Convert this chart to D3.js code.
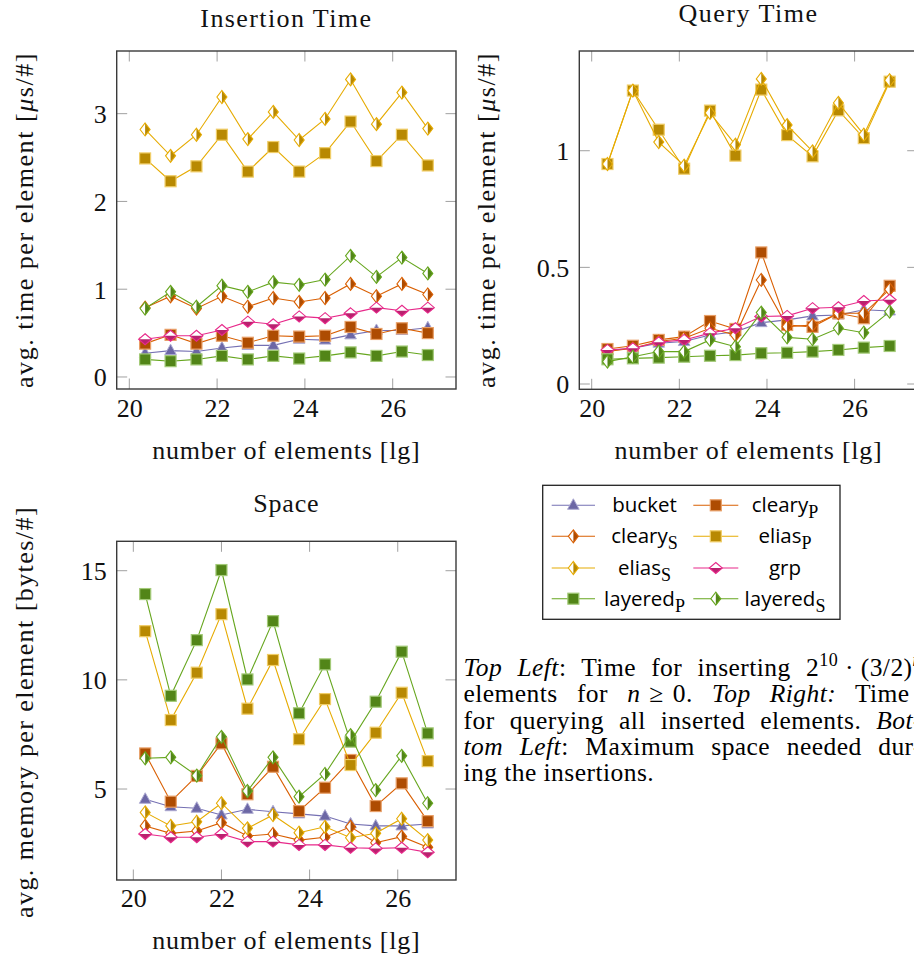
<!DOCTYPE html>
<html><head><meta charset="utf-8">
<script src="https://cdn.jsdelivr.net/npm/d3@7"></script>
<style>body{margin:0;background:#fff}</style>
</head><body><svg id="c" width="914" height="961" xmlns="http://www.w3.org/2000/svg"></svg>
<script>
// ---------- data ----------
const seriesNames = ["bucket","cleary_P","cleary_S","elias_P","elias_S","grp","layered_P","layered_S"];
const timeX  = [20.36,20.94,21.53,22.11,22.70,23.28,23.87,24.46,25.04,25.63,26.21,26.80];
const spaceX = [20.27,20.85,21.44,22.00,22.59,23.17,23.76,24.35,24.93,25.50,26.09,26.68];
const xTicks = [20,22,24,26];
const insertTicks = [0,1,2,3];
const queryTicks = [0,0.5,1];
const spaceTicks = [5,10,15];

const insBucket   = [0.27,0.30,0.29,0.33,0.36,0.36,0.43,0.42,0.48,0.53,0.53,0.56];
const insClearyP  = [0.38,0.48,0.38,0.47,0.39,0.47,0.46,0.47,0.57,0.49,0.555,0.50];
const insClearyS  = [0.79,0.92,0.78,0.92,0.80,0.90,0.855,0.90,1.06,0.92,1.06,0.94];
const insEliasP   = [2.49,2.23,2.40,2.76,2.34,2.62,2.34,2.55,2.91,2.46,2.76,2.41];
const insEliasS   = [2.82,2.52,2.76,3.19,2.71,3.02,2.70,2.94,3.39,2.88,3.24,2.83];
const insGrp      = [0.43,0.47,0.47,0.535,0.63,0.60,0.69,0.67,0.725,0.79,0.755,0.79];
const insLayeredP = [0.20,0.18,0.20,0.24,0.20,0.24,0.21,0.24,0.28,0.24,0.29,0.25];
const insLayeredS = [0.78,0.97,0.80,1.04,0.97,1.08,1.05,1.11,1.38,1.14,1.36,1.18];

const qBucket   = [0.143,0.153,0.175,0.182,0.210,0.224,0.263,0.275,0.292,0.296,0.318,0.313];
const qClearyP  = [0.150,0.164,0.189,0.203,0.270,0.236,0.564,0.253,0.245,0.303,0.282,0.421];
const qClearyS  = [0.139,0.153,0.182,0.196,0.239,0.210,0.446,0.246,0.253,0.303,0.303,0.406];
const qEliasP   = [0.943,1.258,1.090,0.923,1.172,0.979,1.262,1.067,0.976,1.173,1.054,1.296];
const qEliasS   = [0.943,1.258,1.037,0.936,1.162,1.026,1.308,1.110,0.997,1.205,1.069,1.302];
const qGrp      = [0.146,0.153,0.179,0.189,0.218,0.239,0.289,0.292,0.325,0.329,0.356,0.361];
const qLayeredP = [0.106,0.110,0.113,0.117,0.121,0.124,0.132,0.134,0.139,0.146,0.156,0.163];
const qLayeredS = [0.096,0.117,0.139,0.139,0.189,0.160,0.306,0.200,0.192,0.239,0.220,0.310];

const sBucket   = [4.53,4.19,4.12,3.81,4.07,3.96,3.86,3.76,3.40,3.31,3.31,3.40];
const sClearyP  = [6.63,4.42,5.60,7.09,4.76,6.02,3.99,5.06,6.33,4.22,5.26,3.53];
const sClearyS  = [3.31,2.97,3.08,3.46,2.85,2.94,2.66,2.79,3.27,2.54,2.82,2.33];
const sEliasP   = [12.23,8.16,10.33,13.01,8.68,10.91,7.28,9.12,6.10,7.58,9.41,6.28];
const sEliasS   = [3.93,3.31,3.50,4.35,3.20,3.81,3.00,3.27,2.77,2.97,3.64,2.66];
const sGrp      = [2.94,2.79,2.79,2.94,2.59,2.59,2.44,2.44,2.31,2.28,2.31,2.10];
const sLayeredP = [13.93,9.27,11.82,15.03,10.02,12.69,8.47,10.71,7.17,9.00,11.29,7.55];
const sLayeredS = [6.41,6.45,5.61,7.39,4.91,6.45,4.65,5.69,7.47,4.95,6.52,4.35];

// ---------- styles ----------
const SERIF = "'Liberation Serif','Times New Roman',serif";
const SANS = "'Open Sans','DejaVu Sans',sans-serif";
const FS = 26;
const baseColor = {bucket:"#7570b3", cleary:"#d95f02", elias:"#e6ab02", grp:"#e7298a", layered:"#66a61e"};
function famOf(n){ return n.split("_")[0]; }
function kindOf(n){
  if (n==="bucket") return "tri";
  if (n==="grp") return "hdiamond";
  return n.endsWith("_P") ? "square" : "vdiamond";
}
const light = c => d3.interpolateRgb(c, "#fff")(0.4);
const dark = c => d3.interpolateRgb(c, "#000")(0.2);

const svg = d3.select("#c");

function fitText(t, target){
  const w = t.node().getComputedTextLength();
  const n = t.text().length;
  if (n>1) t.attr("letter-spacing", (target - w)/n);
}

function drawMarker(g, kind, color, cx, cy){
  const m = g.append("g").attr("transform", `translate(${cx},${cy})`);
  if (kind==="square"){
    m.append("rect").attr("x",-5.5).attr("y",-5.5).attr("width",11).attr("height",11)
      .attr("fill", dark(color)).attr("stroke", light(color)).attr("stroke-width",1.2);
  } else if (kind==="tri"){
    m.append("path").attr("d","M0,-6.5L5.8,4L-5.8,4Z")
      .attr("fill", d3.interpolateRgb(color,"#000")(0.08)).attr("stroke", light(color)).attr("stroke-width",1);
  } else if (kind==="vdiamond"){
    const w=5, h=6.5;
    m.append("path").attr("d",`M0,${-h}L${w},0L0,${h}L${-w},0Z`).attr("fill","#fff");
    m.append("path").attr("d",`M0,${-h}L${w},0L0,${h}Z`).attr("fill", dark(color));
    m.append("path").attr("d",`M0,${-h}L${w},0L0,${h}L${-w},0Z`).attr("fill","none")
      .attr("stroke", color).attr("stroke-width",1.1);
  } else if (kind==="hdiamond"){
    const w=6.5, h=5.5;
    m.append("path").attr("d",`M0,${-h}L${w},0L0,${h}L${-w},0Z`).attr("fill","#fff");
    m.append("path").attr("d",`M${-w},0L${w},0L0,${h}Z`).attr("fill", dark(color));
    m.append("path").attr("d",`M0,${-h}L${w},0L0,${h}L${-w},0Z`).attr("fill","none")
      .attr("stroke", color).attr("stroke-width",1.1);
  }
}

function panel(cfg){
  const g = svg.append("g");
  const x = d3.scaleLinear().domain(cfg.xDomain).range([cfg.left, cfg.right]);
  const y = d3.scaleLinear().domain(cfg.yDomain).range([cfg.bottom, cfg.top]);
  const W = cfg.right-cfg.left, H = cfg.bottom-cfg.top;
  const TL = 10.5;
  const tg = g.append("g").attr("stroke","#a0a0a0").attr("stroke-width",1);
  xTicks.forEach(t=>{
    const px = x(t);
    tg.append("line").attr("x1",px).attr("x2",px).attr("y1",cfg.bottom).attr("y2",cfg.bottom-TL);
    tg.append("line").attr("x1",px).attr("x2",px).attr("y1",cfg.top).attr("y2",cfg.top+TL);
  });
  cfg.yTicks.forEach(t=>{
    const py = y(t);
    tg.append("line").attr("x1",cfg.left).attr("x2",cfg.left+TL).attr("y1",py).attr("y2",py);
    tg.append("line").attr("x1",cfg.right).attr("x2",cfg.right-TL).attr("y1",py).attr("y2",py);
  });
  g.append("rect").attr("x",cfg.left).attr("y",cfg.top).attr("width",W).attr("height",H)
    .attr("fill","none").attr("stroke","#3a3a3a").attr("stroke-width",1.4);
  const xa = d3.axisBottom(x).tickValues(xTicks).tickSize(0).tickPadding(0);
  const xg = g.append("g").attr("transform",`translate(0,${cfg.xTickBase})`).call(xa);
  xg.select(".domain").remove();
  xg.selectAll("text").attr("font-family",SERIF).attr("font-size",FS).attr("fill","#111")
    .attr("dy",0).attr("y",0);
  const ya = d3.axisLeft(y).tickValues(cfg.yTicks).tickSize(0).tickPadding(0).tickFormat(d=>String(d));
  const yg = g.append("g").attr("transform",`translate(${cfg.left-10},0)`).call(ya);
  yg.select(".domain").remove();
  yg.selectAll("text").attr("font-family",SERIF).attr("font-size",FS).attr("fill","#111")
    .attr("dy","0.34em").attr("x",0);
  const cx = (cfg.left+cfg.right)/2;
  const tt = g.append("text").attr("x",cx).attr("y",cfg.titleY).attr("text-anchor","middle")
    .attr("font-family",SERIF).attr("font-size",FS).attr("fill","#111").text(cfg.title);
  fitText(tt, cfg.titleW);
  const xl = g.append("text").attr("x",cx).attr("y",cfg.xLabelY).attr("text-anchor","middle")
    .attr("font-family",SERIF).attr("font-size",FS).attr("fill","#111")
    .text("number of elements [lg]");
  fitText(xl, 268);
  const yl = g.append("text").attr("transform",`translate(${cfg.yLabelX},${cfg.yLabelC}) rotate(-90)`)
    .attr("text-anchor","middle").attr("font-family",SERIF).attr("font-size",FS).attr("fill","#111");
  yl.append("tspan").text(cfg.yLabel[0]);
  if (cfg.yLabel[1]) yl.append("tspan").attr("font-style","italic").text(cfg.yLabel[1]);
  if (cfg.yLabel[2]) yl.append("tspan").text(cfg.yLabel[2]);
  fitText(yl, cfg.yLabelW);
  const line = d3.line().x((d,i)=>x(cfg.xs[i])).y(d=>y(d));
  cfg.series.forEach(([name, vals])=>{
    const col = baseColor[famOf(name)];
    const sg = g.append("g");
    sg.append("path").attr("d", line(vals)).attr("fill","none").attr("stroke",col).attr("stroke-width",1.1);
    vals.forEach((v,i)=> drawMarker(sg, kindOf(name), col, x(cfg.xs[i]), y(v)));
  });
}

panel({left:116.7,right:456,top:51,bottom:389, xDomain:[19.713,27.442], yDomain:[-0.137,3.714],
  xs:timeX, yTicks:insertTicks, xTickBase:417, title:"Insertion Time", titleW:172, titleY:27,
  xLabelY:459, yLabelX:33, yLabelC:220, yLabelW:336,
  yLabel:["avg. time per element [","\u03bc","s/#]"],
  series:[["bucket",insBucket],["cleary_P",insClearyP],["cleary_S",insClearyS],["elias_P",insEliasP],
          ["elias_S",insEliasS],["grp",insGrp],["layered_P",insLayeredP],["layered_S",insLayeredS]]});

panel({left:579.3,right:917.7,top:51,bottom:389.3, xDomain:[19.717,27.44], yDomain:[-0.0227,1.4275],
  xs:timeX, yTicks:queryTicks, xTickBase:417, title:"Query Time", titleW:140, titleY:22,
  xLabelY:459, yLabelX:495, yLabelC:220, yLabelW:336,
  yLabel:["avg. time per element [","\u03bc","s/#]"],
  series:[["bucket",qBucket],["cleary_P",qClearyP],["cleary_S",qClearyS],["elias_P",qEliasP],
          ["elias_S",qEliasS],["grp",qGrp],["layered_P",qLayeredP],["layered_S",qLayeredS]]});

panel({left:116.7,right:456,top:541.3,bottom:880, xDomain:[19.623,27.322], yDomain:[0.833,16.347],
  xs:spaceX, yTicks:spaceTicks, xTickBase:907, title:"Space", titleW:66, titleY:512,
  xLabelY:949, yLabelX:33, yLabelC:712, yLabelW:412,
  yLabel:["avg. memory per element [bytes/#]","",""],
  series:[["bucket",sBucket],["cleary_P",sClearyP],["cleary_S",sClearyS],["elias_P",sEliasP],
          ["elias_S",sEliasS],["grp",sGrp],["layered_P",sLayeredP],["layered_S",sLayeredS]]});

// ---------- legend ----------
const lg = svg.append("g");
lg.append("rect").attr("x",542.7).attr("y",485.3).attr("width",297.3).attr("height",134)
  .attr("fill","#fff").attr("stroke","#222").attr("stroke-width",1.3);
const colLine = [[551.7,595],[693.3,738.3]];
const colText = [644.5,785];
const rowY = [505.3,536.3,568,598.7];
seriesNames.forEach((name,i)=>{
  const c = i%2, r = Math.floor(i/2);
  const col = baseColor[famOf(name)];
  lg.append("line").attr("x1",colLine[c][0]).attr("x2",colLine[c][1]).attr("y1",rowY[r]).attr("y2",rowY[r])
    .attr("stroke",col).attr("stroke-width",1.1);
  drawMarker(lg, kindOf(name), col, (colLine[c][0]+colLine[c][1])/2, rowY[r]);
  const parts = name.split("_");
  const t = lg.append("text").attr("x",colText[c]).attr("y",rowY[r]+7).attr("text-anchor","middle")
    .attr("font-family",SANS).attr("font-size",20.5).attr("fill","#000");
  t.append("tspan").text(parts[0]);
  if (parts[1]) t.append("tspan").attr("font-family",SERIF).attr("font-size",18).attr("dy",6).text(parts[1]);
});

// ---------- caption ----------
const capLeft = 463.5, capRight = 922;
const capLines = [
  [["Top Left","i"],[": Time for inserting 2",""],["10","sup"],["\u2005\u00b7\u2005(3/2)","back"],["n","supi"]],
  [["elements for ",""],["n","i"],["\u2004\u2265\u20040.  ",""],["Top Right:","i"],[" Time",""]],
  [["for querying all inserted elements. ",""],["Bot-","i"]],
  [["tom Left","i"],[": Maximum space needed dur-",""]],
  [["ing the insertions.",""]]
];
const capBase = [676, 702.3, 728.5, 754.8, 781];
capLines.forEach((parts,li)=>{
  const t = svg.append("text").attr("x",capLeft).attr("y",capBase[li])
    .attr("font-family",SERIF).attr("font-size",25.5).attr("letter-spacing",0.45).attr("fill","#000");
  parts.forEach(([s,k])=>{
    const ts = t.append("tspan").text(s);
    if (k==="i") ts.attr("font-style","italic");
    if (k==="sup") ts.attr("font-size",18).attr("dy",-10);
    if (k==="back") ts.attr("dy",10);
    if (k==="supi") ts.attr("font-size",18).attr("font-style","italic").attr("dy",-10);
  });
  if (li<4){
    const w = t.node().getComputedTextLength();
    const full = parts.map(p=>p[0]).join("");
    const nsp = (full.match(/ /g)||[]).length;
    if (nsp>0) t.attr("word-spacing", Math.max(0,(capRight-capLeft-w)/nsp));
  }
});
</script></body></html>
